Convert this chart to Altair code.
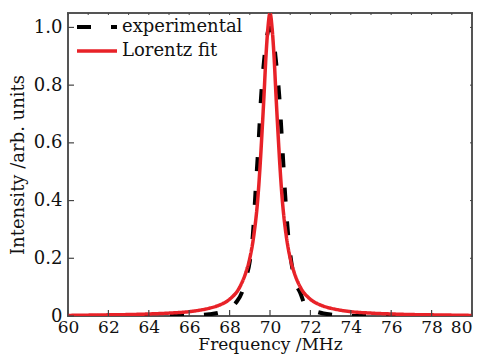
import altair as alt
import pandas as pd

# experimental (black dashed)
exp_x = [60, 61, 62, 63, 64, 65, 66, 66.5, 67, 67.5, 68, 68.3, 68.6, 68.8, 69.0, 69.15, 69.3, 69.45, 69.55, 69.7, 69.85, 70,
         70.15, 70.3, 70.45, 70.6, 70.75, 70.9, 71.05, 71.25, 71.5, 71.8, 72.3, 73, 73.5, 74, 75, 76, 77, 78, 79, 80]
exp_y = [0, 0, 0, 0, 0, 0, 0, 0.003, 0.006, 0.012, 0.025, 0.045, 0.08, 0.13, 0.19, 0.28, 0.45, 0.62, 0.75, 0.88, 0.97, 1.0,
         0.97, 0.88, 0.77, 0.6, 0.42, 0.28, 0.19, 0.12, 0.08, 0.03, 0.015, 0.005, 0.002, 0, 0, 0, 0, 0, 0, 0]

# Lorentz fit (red)
fit_x = [60, 61, 62, 63, 64, 65, 66, 66.5, 67, 67.5, 68, 68.5, 68.8, 69, 69.2, 69.4, 69.5, 69.6, 69.7, 69.8, 69.9, 70,
         70.1, 70.2, 70.3, 70.4, 70.5, 70.6, 70.8, 71, 71.2, 71.5, 72, 72.5, 73, 73.5, 74, 75, 76, 77, 78, 79, 80]
fit_y = [0.002, 0.003, 0.004, 0.005, 0.007, 0.01, 0.015, 0.02, 0.027, 0.038, 0.058, 0.10, 0.15, 0.20, 0.28, 0.41, 0.51, 0.63, 0.76, 0.90, 1.0, 1.05,
         1.0, 0.90, 0.76, 0.63, 0.51, 0.41, 0.28, 0.20, 0.15, 0.10, 0.058, 0.038, 0.027, 0.02, 0.015, 0.01, 0.007, 0.005, 0.004, 0.003, 0.002]

series_names = ["experimental", "Lorentz fit"]
x_ticks = list(range(60, 81, 2))
x_minor = list(range(60, 81, 1))
y_ticks = [0, 0.2, 0.4, 0.6, 0.8, 1.0]

df = pd.concat([
    pd.DataFrame({"f": exp_x, "I": exp_y, "s": series_names[0], "o": 0}),
    pd.DataFrame({"f": fit_x, "I": fit_y, "s": series_names[1], "o": 1}),
])

FONT = "DejaVu Serif"
W, H = 404, 303

xscale = alt.Scale(domain=[60, 80], nice=False, zero=False)
yscale = alt.Scale(domain=[0, 1.05], nice=False)

leg = dict(title=None, orient="none", legendX=7, legendY=2)

lines = alt.Chart(df).mark_line(clip=True, interpolate="monotone").encode(
    x=alt.X("f:Q", scale=xscale,
            axis=alt.Axis(values=x_ticks, title="Frequency /MHz", ticks=False, domain=False, grid=False,
                          labelFlush=False, labelPadding=3, titlePadding=1, format="d",
                          labelFontSize=17, titleFontSize=17,
                          labelAlign=alt.ExprRef(expr="datum.value == 80 ? 'right' : 'center'"))),
    y=alt.Y("I:Q", scale=yscale,
            axis=alt.Axis(values=y_ticks, title="Intensity /arb. units", ticks=False, domain=False, grid=False,
                          labelFlush=False, labelPadding=6, titlePadding=6,
                          labelExpr="datum.value == 0 ? '0' : format(datum.value, '.1f')")),
    color=alt.Color("s:N", scale=alt.Scale(domain=series_names, range=["#000000", "#e82228"]),
                    legend=alt.Legend(**leg)),
    strokeDash=alt.StrokeDash("s:N", scale=alt.Scale(domain=series_names, range=[[14, 20], [1, 0]]),
                              legend=alt.Legend(**leg)),
    strokeWidth=alt.StrokeWidth("s:N", scale=alt.Scale(domain=series_names, range=[4, 3.5]), legend=None),
    order="o:Q",
)

xt = pd.DataFrame({"f": x_ticks})
xm = pd.DataFrame({"f": x_minor})
yt = pd.DataFrame({"I": y_ticks})
tick_col = "#444"
bottom_ticks = alt.Chart(xt).mark_rule(color=tick_col, strokeWidth=1.2).encode(
    x=alt.X("f:Q", scale=xscale), y=alt.value(H - 6), y2=alt.value(H))
top_ticks = alt.Chart(xm).mark_rule(color=tick_col, strokeWidth=1).encode(
    x=alt.X("f:Q", scale=xscale), y=alt.value(0), y2=alt.value(2))
left_ticks = alt.Chart(yt).mark_rule(color=tick_col, strokeWidth=1.2).encode(
    y=alt.Y("I:Q", scale=yscale), x=alt.value(0), x2=alt.value(6))
right_ticks = alt.Chart(yt).mark_rule(color=tick_col, strokeWidth=1).encode(
    y=alt.Y("I:Q", scale=yscale), x=alt.value(W - 2), x2=alt.value(W))

chart = alt.layer(lines, bottom_ticks, top_ticks, left_ticks, right_ticks).resolve_scale(
    x="shared", y="shared"
).properties(
    width=W, height=H,
    background="white",
    autosize=alt.AutoSizeParams(type="none"),
    padding={"left": 60, "top": 5, "right": 3, "bottom": 39},
).configure_view(
    stroke="#555", strokeWidth=2
).configure_axis(
    grid=False, labelFont=FONT, titleFont=FONT, labelFontSize=18, titleFontSize=18,
    labelColor="#111", titleColor="#111", titleFontWeight="normal"
).configure_legend(
    symbolType="stroke", symbolSize=1600, labelFontSize=18,
    labelFont=FONT, labelColor="#111", labelOffset=3,
    rowPadding=0, clipHeight=24, padding=0, symbolStrokeWidth=3.5, labelLimit=300
)

chart.save("out.html", embed_options={"renderer": "svg", "actions": False})
